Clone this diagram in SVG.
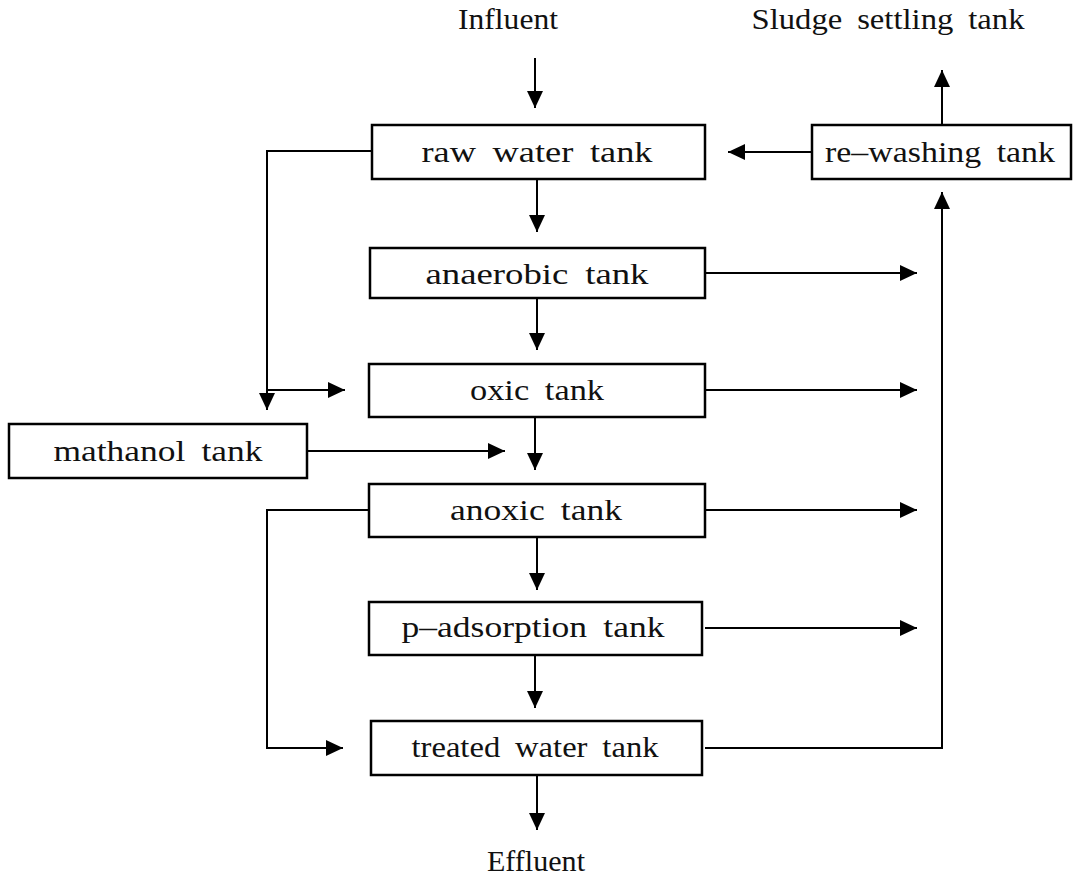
<svg xmlns="http://www.w3.org/2000/svg" width="1075" height="885" viewBox="0 0 1075 885">
<defs>
<marker id="ah" markerUnits="userSpaceOnUse" markerWidth="18" markerHeight="16" refX="17" refY="8" orient="auto">
<path d="M0,0 L17,8 L0,16 z" fill="#000"/>
</marker>
<style>
.box{fill:#fff;stroke:#000;stroke-width:2.5}
.t{font-family:"Liberation Serif","DejaVu Serif",serif;font-size:29px;fill:#111;text-anchor:middle;word-spacing:6px}
.c{fill:none;stroke:#000;stroke-width:2}
.a{marker-end:url(#ah)}
</style>
</defs>
<rect width="1075" height="885" fill="#fff"/>
<g id="connectors">
<path class="c a" d="M535,58 V108"/>
<path class="c a" d="M537,179 V232"/>
<path class="c a" d="M537,298 V350"/>
<path class="c a" d="M535,417 V470"/>
<path class="c a" d="M537,537 V590"/>
<path class="c a" d="M535,655 V708"/>
<path class="c a" d="M537,775 V830"/>
<path class="c a" d="M372,151 H267 V410"/>
<path class="c a" d="M267,390 H345"/>
<path class="c a" d="M307,451 H505"/>
<path class="c a" d="M369,510 H267 V748 H343"/>
<path class="c a" d="M705,273 H917"/>
<path class="c a" d="M705,390 H917"/>
<path class="c a" d="M705,510 H917"/>
<path class="c a" d="M705,628 H917"/>
<path class="c a" d="M705,748 H942 V192"/>
<path class="c a" d="M812,152 H728"/>
<path class="c a" d="M942,125 V70"/>
</g>
<g id="influent"><text class="t" x="508" y="29" textLength="100" lengthAdjust="spacingAndGlyphs">Influent</text></g>
<g id="sludge"><text class="t" x="888" y="29" textLength="273" lengthAdjust="spacingAndGlyphs">Sludge  settling  tank</text></g>
<g id="raw"><rect class="box" x="372" y="125" width="333" height="54"/><text class="t" x="537" y="162" textLength="231" lengthAdjust="spacingAndGlyphs">raw  water  tank</text></g>
<g id="rewash"><rect class="box" x="812" y="125" width="259" height="54"/><text class="t" x="940" y="162" textLength="230" lengthAdjust="spacingAndGlyphs">re–washing  tank</text></g>
<g id="anaerobic"><rect class="box" x="370" y="248" width="335" height="50"/><text class="t" x="537" y="284" textLength="223" lengthAdjust="spacingAndGlyphs">anaerobic  tank</text></g>
<g id="oxic"><rect class="box" x="369" y="364" width="336" height="53"/><text class="t" x="537" y="400" textLength="134" lengthAdjust="spacingAndGlyphs">oxic  tank</text></g>
<g id="mathanol"><rect class="box" x="9" y="424" width="298" height="54"/><text class="t" x="158" y="461" textLength="209" lengthAdjust="spacingAndGlyphs">mathanol  tank</text></g>
<g id="anoxic"><rect class="box" x="369" y="484" width="336" height="53"/><text class="t" x="536" y="520" textLength="172" lengthAdjust="spacingAndGlyphs">anoxic  tank</text></g>
<g id="padsorption"><rect class="box" x="369" y="602" width="333" height="53"/><text class="t" x="533" y="637" textLength="263" lengthAdjust="spacingAndGlyphs">p–adsorption  tank</text></g>
<g id="treated"><rect class="box" x="371" y="721" width="331" height="54"/><text class="t" x="535" y="757" textLength="247" lengthAdjust="spacingAndGlyphs">treated  water  tank</text></g>
<g id="effluent"><text class="t" x="536" y="871" textLength="98" lengthAdjust="spacingAndGlyphs">Effluent</text></g>
</svg>
